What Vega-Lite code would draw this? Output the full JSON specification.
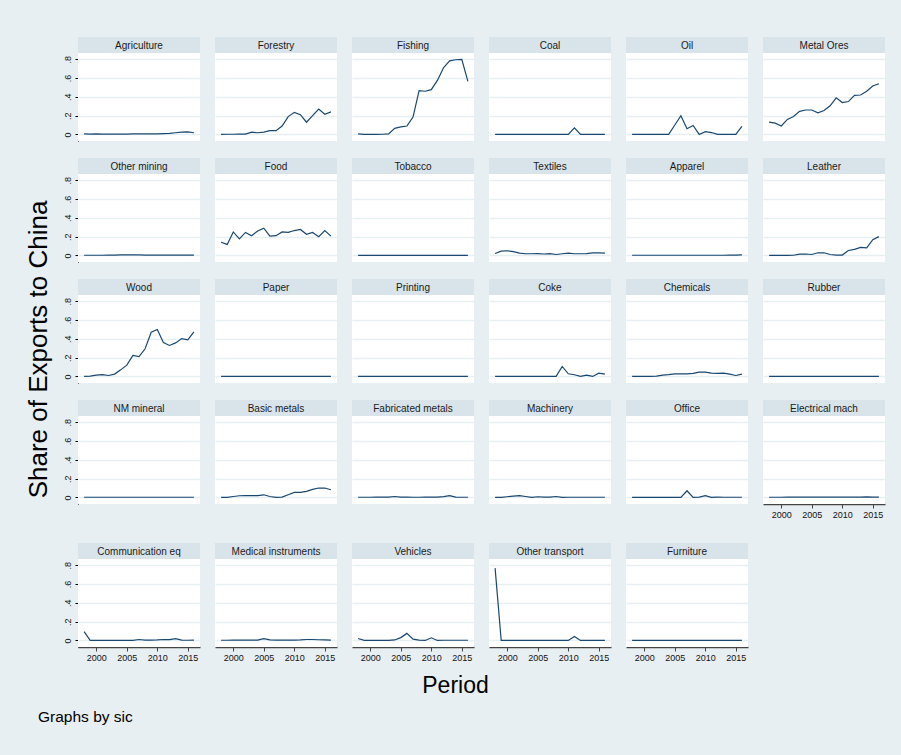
{
"$schema": "https://vega.github.io/schema/vega-lite/v6.json",
"background": "#e8eff2",
"padding": {"left": 25, "top": 37, "right": 16, "bottom": 29},
"config": {
  "font": "Liberation Sans",
  "view": {"fill": "white", "stroke": null},
  "title": {"font": "Liberation Sans", "fontWeight": "normal", "color": "#000000"},
  "header": {"labels": false, "title": null, "labelPadding": 0, "labelFontSize": 0, "labelExpr": "''", "titlePadding": 0},
  "axis": {"labelFont": "Liberation Sans", "labelColor": "#111111", "labelFontSize": 9, "titleFont": "Liberation Sans"}
},
"data": {"values": [
{"sic":"Agriculture","year":1998,"share":0.005},{"sic":"Agriculture","year":1999,"share":0.003},{"sic":"Agriculture","year":2000,"share":0.005},{"sic":"Agriculture","year":2001,"share":0.004},{"sic":"Agriculture","year":2002,"share":0.003},{"sic":"Agriculture","year":2003,"share":0.003},{"sic":"Agriculture","year":2004,"share":0.003},{"sic":"Agriculture","year":2005,"share":0.004},{"sic":"Agriculture","year":2006,"share":0.005},{"sic":"Agriculture","year":2007,"share":0.006},{"sic":"Agriculture","year":2008,"share":0.006},{"sic":"Agriculture","year":2009,"share":0.005},{"sic":"Agriculture","year":2010,"share":0.005},{"sic":"Agriculture","year":2011,"share":0.008},{"sic":"Agriculture","year":2012,"share":0.012},{"sic":"Agriculture","year":2013,"share":0.018},{"sic":"Agriculture","year":2014,"share":0.025},{"sic":"Agriculture","year":2015,"share":0.027},{"sic":"Agriculture","year":2016,"share":0.018},
{"sic":"Forestry","year":1998,"share":0},{"sic":"Forestry","year":1999,"share":0.002},{"sic":"Forestry","year":2000,"share":0.002},{"sic":"Forestry","year":2001,"share":0.004},{"sic":"Forestry","year":2002,"share":0.004},{"sic":"Forestry","year":2003,"share":0.025},{"sic":"Forestry","year":2004,"share":0.018},{"sic":"Forestry","year":2005,"share":0.025},{"sic":"Forestry","year":2006,"share":0.04},{"sic":"Forestry","year":2007,"share":0.04},{"sic":"Forestry","year":2008,"share":0.09},{"sic":"Forestry","year":2009,"share":0.19},{"sic":"Forestry","year":2010,"share":0.235},{"sic":"Forestry","year":2011,"share":0.21},{"sic":"Forestry","year":2012,"share":0.13},{"sic":"Forestry","year":2013,"share":0.2},{"sic":"Forestry","year":2014,"share":0.27},{"sic":"Forestry","year":2015,"share":0.215},{"sic":"Forestry","year":2016,"share":0.24},
{"sic":"Fishing","year":1998,"share":0.005},{"sic":"Fishing","year":1999,"share":0},{"sic":"Fishing","year":2000,"share":0},{"sic":"Fishing","year":2001,"share":0},{"sic":"Fishing","year":2002,"share":0.002},{"sic":"Fishing","year":2003,"share":0.005},{"sic":"Fishing","year":2004,"share":0.065},{"sic":"Fishing","year":2005,"share":0.08},{"sic":"Fishing","year":2006,"share":0.09},{"sic":"Fishing","year":2007,"share":0.185},{"sic":"Fishing","year":2008,"share":0.466},{"sic":"Fishing","year":2009,"share":0.46},{"sic":"Fishing","year":2010,"share":0.477},{"sic":"Fishing","year":2011,"share":0.575},{"sic":"Fishing","year":2012,"share":0.71},{"sic":"Fishing","year":2013,"share":0.783},{"sic":"Fishing","year":2014,"share":0.795},{"sic":"Fishing","year":2015,"share":0.8},{"sic":"Fishing","year":2016,"share":0.565},
{"sic":"Coal","year":1998,"share":0},{"sic":"Coal","year":1999,"share":0},{"sic":"Coal","year":2000,"share":0},{"sic":"Coal","year":2001,"share":0},{"sic":"Coal","year":2002,"share":0},{"sic":"Coal","year":2003,"share":0},{"sic":"Coal","year":2004,"share":0},{"sic":"Coal","year":2005,"share":0},{"sic":"Coal","year":2006,"share":0},{"sic":"Coal","year":2007,"share":0},{"sic":"Coal","year":2008,"share":0},{"sic":"Coal","year":2009,"share":0},{"sic":"Coal","year":2010,"share":0},{"sic":"Coal","year":2011,"share":0.07},{"sic":"Coal","year":2012,"share":0},{"sic":"Coal","year":2013,"share":0},{"sic":"Coal","year":2014,"share":0},{"sic":"Coal","year":2015,"share":0},{"sic":"Coal","year":2016,"share":0},
{"sic":"Oil","year":1998,"share":0},{"sic":"Oil","year":1999,"share":0},{"sic":"Oil","year":2000,"share":0},{"sic":"Oil","year":2001,"share":0},{"sic":"Oil","year":2002,"share":0},{"sic":"Oil","year":2003,"share":0},{"sic":"Oil","year":2004,"share":0},{"sic":"Oil","year":2005,"share":0.1},{"sic":"Oil","year":2006,"share":0.2},{"sic":"Oil","year":2007,"share":0.06},{"sic":"Oil","year":2008,"share":0.095},{"sic":"Oil","year":2009,"share":0},{"sic":"Oil","year":2010,"share":0.03},{"sic":"Oil","year":2011,"share":0.02},{"sic":"Oil","year":2012,"share":0},{"sic":"Oil","year":2013,"share":0},{"sic":"Oil","year":2014,"share":0},{"sic":"Oil","year":2015,"share":0},{"sic":"Oil","year":2016,"share":0.085},
{"sic":"Metal Ores","year":1998,"share":0.13},{"sic":"Metal Ores","year":1999,"share":0.12},{"sic":"Metal Ores","year":2000,"share":0.09},{"sic":"Metal Ores","year":2001,"share":0.16},{"sic":"Metal Ores","year":2002,"share":0.19},{"sic":"Metal Ores","year":2003,"share":0.245},{"sic":"Metal Ores","year":2004,"share":0.26},{"sic":"Metal Ores","year":2005,"share":0.26},{"sic":"Metal Ores","year":2006,"share":0.23},{"sic":"Metal Ores","year":2007,"share":0.255},{"sic":"Metal Ores","year":2008,"share":0.305},{"sic":"Metal Ores","year":2009,"share":0.39},{"sic":"Metal Ores","year":2010,"share":0.34},{"sic":"Metal Ores","year":2011,"share":0.35},{"sic":"Metal Ores","year":2012,"share":0.415},{"sic":"Metal Ores","year":2013,"share":0.42},{"sic":"Metal Ores","year":2014,"share":0.46},{"sic":"Metal Ores","year":2015,"share":0.515},{"sic":"Metal Ores","year":2016,"share":0.54},
{"sic":"Other mining","year":1998,"share":0.002},{"sic":"Other mining","year":1999,"share":0.002},{"sic":"Other mining","year":2000,"share":0.002},{"sic":"Other mining","year":2001,"share":0.002},{"sic":"Other mining","year":2002,"share":0.003},{"sic":"Other mining","year":2003,"share":0.003},{"sic":"Other mining","year":2004,"share":0.005},{"sic":"Other mining","year":2005,"share":0.006},{"sic":"Other mining","year":2006,"share":0.005},{"sic":"Other mining","year":2007,"share":0.005},{"sic":"Other mining","year":2008,"share":0.004},{"sic":"Other mining","year":2009,"share":0.004},{"sic":"Other mining","year":2010,"share":0.003},{"sic":"Other mining","year":2011,"share":0.003},{"sic":"Other mining","year":2012,"share":0.003},{"sic":"Other mining","year":2013,"share":0.003},{"sic":"Other mining","year":2014,"share":0.003},{"sic":"Other mining","year":2015,"share":0.004},{"sic":"Other mining","year":2016,"share":0.004},
{"sic":"Food","year":1998,"share":0.14},{"sic":"Food","year":1999,"share":0.117},{"sic":"Food","year":2000,"share":0.25},{"sic":"Food","year":2001,"share":0.177},{"sic":"Food","year":2002,"share":0.245},{"sic":"Food","year":2003,"share":0.21},{"sic":"Food","year":2004,"share":0.26},{"sic":"Food","year":2005,"share":0.29},{"sic":"Food","year":2006,"share":0.205},{"sic":"Food","year":2007,"share":0.21},{"sic":"Food","year":2008,"share":0.25},{"sic":"Food","year":2009,"share":0.245},{"sic":"Food","year":2010,"share":0.265},{"sic":"Food","year":2011,"share":0.277},{"sic":"Food","year":2012,"share":0.225},{"sic":"Food","year":2013,"share":0.245},{"sic":"Food","year":2014,"share":0.2},{"sic":"Food","year":2015,"share":0.265},{"sic":"Food","year":2016,"share":0.205},
{"sic":"Tobacco","year":1998,"share":0},{"sic":"Tobacco","year":1999,"share":0},{"sic":"Tobacco","year":2000,"share":0},{"sic":"Tobacco","year":2001,"share":0},{"sic":"Tobacco","year":2002,"share":0},{"sic":"Tobacco","year":2003,"share":0},{"sic":"Tobacco","year":2004,"share":0},{"sic":"Tobacco","year":2005,"share":0},{"sic":"Tobacco","year":2006,"share":0},{"sic":"Tobacco","year":2007,"share":0},{"sic":"Tobacco","year":2008,"share":0},{"sic":"Tobacco","year":2009,"share":0},{"sic":"Tobacco","year":2010,"share":0},{"sic":"Tobacco","year":2011,"share":0},{"sic":"Tobacco","year":2012,"share":0},{"sic":"Tobacco","year":2013,"share":0},{"sic":"Tobacco","year":2014,"share":0},{"sic":"Tobacco","year":2015,"share":0},{"sic":"Tobacco","year":2016,"share":0},
{"sic":"Textiles","year":1998,"share":0.02},{"sic":"Textiles","year":1999,"share":0.045},{"sic":"Textiles","year":2000,"share":0.05},{"sic":"Textiles","year":2001,"share":0.04},{"sic":"Textiles","year":2002,"share":0.025},{"sic":"Textiles","year":2003,"share":0.018},{"sic":"Textiles","year":2004,"share":0.018},{"sic":"Textiles","year":2005,"share":0.02},{"sic":"Textiles","year":2006,"share":0.015},{"sic":"Textiles","year":2007,"share":0.02},{"sic":"Textiles","year":2008,"share":0.01},{"sic":"Textiles","year":2009,"share":0.018},{"sic":"Textiles","year":2010,"share":0.025},{"sic":"Textiles","year":2011,"share":0.018},{"sic":"Textiles","year":2012,"share":0.018},{"sic":"Textiles","year":2013,"share":0.02},{"sic":"Textiles","year":2014,"share":0.028},{"sic":"Textiles","year":2015,"share":0.028},{"sic":"Textiles","year":2016,"share":0.025},
{"sic":"Apparel","year":1998,"share":0.002},{"sic":"Apparel","year":1999,"share":0.002},{"sic":"Apparel","year":2000,"share":0.002},{"sic":"Apparel","year":2001,"share":0.002},{"sic":"Apparel","year":2002,"share":0.002},{"sic":"Apparel","year":2003,"share":0.002},{"sic":"Apparel","year":2004,"share":0.002},{"sic":"Apparel","year":2005,"share":0.002},{"sic":"Apparel","year":2006,"share":0.002},{"sic":"Apparel","year":2007,"share":0.002},{"sic":"Apparel","year":2008,"share":0.002},{"sic":"Apparel","year":2009,"share":0.002},{"sic":"Apparel","year":2010,"share":0.002},{"sic":"Apparel","year":2011,"share":0.002},{"sic":"Apparel","year":2012,"share":0.002},{"sic":"Apparel","year":2013,"share":0.002},{"sic":"Apparel","year":2014,"share":0.003},{"sic":"Apparel","year":2015,"share":0.004},{"sic":"Apparel","year":2016,"share":0.005},
{"sic":"Leather","year":1998,"share":0},{"sic":"Leather","year":1999,"share":0},{"sic":"Leather","year":2000,"share":0},{"sic":"Leather","year":2001,"share":0},{"sic":"Leather","year":2002,"share":0.002},{"sic":"Leather","year":2003,"share":0.014},{"sic":"Leather","year":2004,"share":0.015},{"sic":"Leather","year":2005,"share":0.01},{"sic":"Leather","year":2006,"share":0.028},{"sic":"Leather","year":2007,"share":0.028},{"sic":"Leather","year":2008,"share":0.01},{"sic":"Leather","year":2009,"share":0.004},{"sic":"Leather","year":2010,"share":0.004},{"sic":"Leather","year":2011,"share":0.053},{"sic":"Leather","year":2012,"share":0.064},{"sic":"Leather","year":2013,"share":0.085},{"sic":"Leather","year":2014,"share":0.08},{"sic":"Leather","year":2015,"share":0.167},{"sic":"Leather","year":2016,"share":0.2},
{"sic":"Wood","year":1998,"share":0},{"sic":"Wood","year":1999,"share":0.004},{"sic":"Wood","year":2000,"share":0.014},{"sic":"Wood","year":2001,"share":0.02},{"sic":"Wood","year":2002,"share":0.01},{"sic":"Wood","year":2003,"share":0.025},{"sic":"Wood","year":2004,"share":0.07},{"sic":"Wood","year":2005,"share":0.12},{"sic":"Wood","year":2006,"share":0.223},{"sic":"Wood","year":2007,"share":0.212},{"sic":"Wood","year":2008,"share":0.294},{"sic":"Wood","year":2009,"share":0.47},{"sic":"Wood","year":2010,"share":0.5},{"sic":"Wood","year":2011,"share":0.36},{"sic":"Wood","year":2012,"share":0.33},{"sic":"Wood","year":2013,"share":0.357},{"sic":"Wood","year":2014,"share":0.403},{"sic":"Wood","year":2015,"share":0.39},{"sic":"Wood","year":2016,"share":0.474},
{"sic":"Paper","year":1998,"share":0},{"sic":"Paper","year":1999,"share":0},{"sic":"Paper","year":2000,"share":0},{"sic":"Paper","year":2001,"share":0},{"sic":"Paper","year":2002,"share":0},{"sic":"Paper","year":2003,"share":0},{"sic":"Paper","year":2004,"share":0},{"sic":"Paper","year":2005,"share":0},{"sic":"Paper","year":2006,"share":0},{"sic":"Paper","year":2007,"share":0},{"sic":"Paper","year":2008,"share":0},{"sic":"Paper","year":2009,"share":0},{"sic":"Paper","year":2010,"share":0},{"sic":"Paper","year":2011,"share":0},{"sic":"Paper","year":2012,"share":0},{"sic":"Paper","year":2013,"share":0},{"sic":"Paper","year":2014,"share":0},{"sic":"Paper","year":2015,"share":0},{"sic":"Paper","year":2016,"share":0},
{"sic":"Printing","year":1998,"share":0},{"sic":"Printing","year":1999,"share":0},{"sic":"Printing","year":2000,"share":0},{"sic":"Printing","year":2001,"share":0},{"sic":"Printing","year":2002,"share":0},{"sic":"Printing","year":2003,"share":0},{"sic":"Printing","year":2004,"share":0},{"sic":"Printing","year":2005,"share":0},{"sic":"Printing","year":2006,"share":0},{"sic":"Printing","year":2007,"share":0},{"sic":"Printing","year":2008,"share":0},{"sic":"Printing","year":2009,"share":0},{"sic":"Printing","year":2010,"share":0},{"sic":"Printing","year":2011,"share":0},{"sic":"Printing","year":2012,"share":0},{"sic":"Printing","year":2013,"share":0},{"sic":"Printing","year":2014,"share":0},{"sic":"Printing","year":2015,"share":0},{"sic":"Printing","year":2016,"share":0},
{"sic":"Coke","year":1998,"share":0},{"sic":"Coke","year":1999,"share":0},{"sic":"Coke","year":2000,"share":0},{"sic":"Coke","year":2001,"share":0},{"sic":"Coke","year":2002,"share":0},{"sic":"Coke","year":2003,"share":0},{"sic":"Coke","year":2004,"share":0},{"sic":"Coke","year":2005,"share":0},{"sic":"Coke","year":2006,"share":0},{"sic":"Coke","year":2007,"share":0},{"sic":"Coke","year":2008,"share":0},{"sic":"Coke","year":2009,"share":0.106},{"sic":"Coke","year":2010,"share":0.028},{"sic":"Coke","year":2011,"share":0.018},{"sic":"Coke","year":2012,"share":0},{"sic":"Coke","year":2013,"share":0.014},{"sic":"Coke","year":2014,"share":0},{"sic":"Coke","year":2015,"share":0.035},{"sic":"Coke","year":2016,"share":0.025},
{"sic":"Chemicals","year":1998,"share":0},{"sic":"Chemicals","year":1999,"share":0},{"sic":"Chemicals","year":2000,"share":0},{"sic":"Chemicals","year":2001,"share":0},{"sic":"Chemicals","year":2002,"share":0.003},{"sic":"Chemicals","year":2003,"share":0.014},{"sic":"Chemicals","year":2004,"share":0.02},{"sic":"Chemicals","year":2005,"share":0.028},{"sic":"Chemicals","year":2006,"share":0.028},{"sic":"Chemicals","year":2007,"share":0.028},{"sic":"Chemicals","year":2008,"share":0.032},{"sic":"Chemicals","year":2009,"share":0.046},{"sic":"Chemicals","year":2010,"share":0.046},{"sic":"Chemicals","year":2011,"share":0.035},{"sic":"Chemicals","year":2012,"share":0.032},{"sic":"Chemicals","year":2013,"share":0.035},{"sic":"Chemicals","year":2014,"share":0.025},{"sic":"Chemicals","year":2015,"share":0.01},{"sic":"Chemicals","year":2016,"share":0.025},
{"sic":"Rubber","year":1998,"share":0},{"sic":"Rubber","year":1999,"share":0},{"sic":"Rubber","year":2000,"share":0},{"sic":"Rubber","year":2001,"share":0},{"sic":"Rubber","year":2002,"share":0},{"sic":"Rubber","year":2003,"share":0},{"sic":"Rubber","year":2004,"share":0},{"sic":"Rubber","year":2005,"share":0},{"sic":"Rubber","year":2006,"share":0},{"sic":"Rubber","year":2007,"share":0},{"sic":"Rubber","year":2008,"share":0},{"sic":"Rubber","year":2009,"share":0},{"sic":"Rubber","year":2010,"share":0},{"sic":"Rubber","year":2011,"share":0},{"sic":"Rubber","year":2012,"share":0},{"sic":"Rubber","year":2013,"share":0},{"sic":"Rubber","year":2014,"share":0},{"sic":"Rubber","year":2015,"share":0},{"sic":"Rubber","year":2016,"share":0},
{"sic":"NM mineral","year":1998,"share":0.002},{"sic":"NM mineral","year":1999,"share":0.002},{"sic":"NM mineral","year":2000,"share":0.002},{"sic":"NM mineral","year":2001,"share":0.002},{"sic":"NM mineral","year":2002,"share":0.002},{"sic":"NM mineral","year":2003,"share":0.002},{"sic":"NM mineral","year":2004,"share":0.002},{"sic":"NM mineral","year":2005,"share":0.002},{"sic":"NM mineral","year":2006,"share":0.002},{"sic":"NM mineral","year":2007,"share":0.002},{"sic":"NM mineral","year":2008,"share":0.002},{"sic":"NM mineral","year":2009,"share":0.002},{"sic":"NM mineral","year":2010,"share":0.002},{"sic":"NM mineral","year":2011,"share":0.002},{"sic":"NM mineral","year":2012,"share":0.002},{"sic":"NM mineral","year":2013,"share":0.002},{"sic":"NM mineral","year":2014,"share":0.002},{"sic":"NM mineral","year":2015,"share":0.002},{"sic":"NM mineral","year":2016,"share":0.002},
{"sic":"Basic metals","year":1998,"share":0},{"sic":"Basic metals","year":1999,"share":0},{"sic":"Basic metals","year":2000,"share":0.01},{"sic":"Basic metals","year":2001,"share":0.018},{"sic":"Basic metals","year":2002,"share":0.02},{"sic":"Basic metals","year":2003,"share":0.02},{"sic":"Basic metals","year":2004,"share":0.02},{"sic":"Basic metals","year":2005,"share":0.028},{"sic":"Basic metals","year":2006,"share":0.01},{"sic":"Basic metals","year":2007,"share":0},{"sic":"Basic metals","year":2008,"share":0.004},{"sic":"Basic metals","year":2009,"share":0.028},{"sic":"Basic metals","year":2010,"share":0.053},{"sic":"Basic metals","year":2011,"share":0.053},{"sic":"Basic metals","year":2012,"share":0.064},{"sic":"Basic metals","year":2013,"share":0.085},{"sic":"Basic metals","year":2014,"share":0.1},{"sic":"Basic metals","year":2015,"share":0.1},{"sic":"Basic metals","year":2016,"share":0.082},
{"sic":"Fabricated metals","year":1998,"share":0.002},{"sic":"Fabricated metals","year":1999,"share":0.002},{"sic":"Fabricated metals","year":2000,"share":0.002},{"sic":"Fabricated metals","year":2001,"share":0.003},{"sic":"Fabricated metals","year":2002,"share":0.003},{"sic":"Fabricated metals","year":2003,"share":0.003},{"sic":"Fabricated metals","year":2004,"share":0.01},{"sic":"Fabricated metals","year":2005,"share":0.003},{"sic":"Fabricated metals","year":2006,"share":0.003},{"sic":"Fabricated metals","year":2007,"share":0.002},{"sic":"Fabricated metals","year":2008,"share":0.002},{"sic":"Fabricated metals","year":2009,"share":0.003},{"sic":"Fabricated metals","year":2010,"share":0.003},{"sic":"Fabricated metals","year":2011,"share":0.004},{"sic":"Fabricated metals","year":2012,"share":0.008},{"sic":"Fabricated metals","year":2013,"share":0.02},{"sic":"Fabricated metals","year":2014,"share":0.004},{"sic":"Fabricated metals","year":2015,"share":0.002},{"sic":"Fabricated metals","year":2016,"share":0.002},
{"sic":"Machinery","year":1998,"share":0},{"sic":"Machinery","year":1999,"share":0},{"sic":"Machinery","year":2000,"share":0.007},{"sic":"Machinery","year":2001,"share":0.014},{"sic":"Machinery","year":2002,"share":0.02},{"sic":"Machinery","year":2003,"share":0.01},{"sic":"Machinery","year":2004,"share":0},{"sic":"Machinery","year":2005,"share":0.007},{"sic":"Machinery","year":2006,"share":0.004},{"sic":"Machinery","year":2007,"share":0.004},{"sic":"Machinery","year":2008,"share":0.01},{"sic":"Machinery","year":2009,"share":0},{"sic":"Machinery","year":2010,"share":0.002},{"sic":"Machinery","year":2011,"share":0.002},{"sic":"Machinery","year":2012,"share":0.002},{"sic":"Machinery","year":2013,"share":0.002},{"sic":"Machinery","year":2014,"share":0.002},{"sic":"Machinery","year":2015,"share":0.002},{"sic":"Machinery","year":2016,"share":0.002},
{"sic":"Office","year":1998,"share":0},{"sic":"Office","year":1999,"share":0},{"sic":"Office","year":2000,"share":0},{"sic":"Office","year":2001,"share":0},{"sic":"Office","year":2002,"share":0},{"sic":"Office","year":2003,"share":0},{"sic":"Office","year":2004,"share":0},{"sic":"Office","year":2005,"share":0},{"sic":"Office","year":2006,"share":0},{"sic":"Office","year":2007,"share":0.071},{"sic":"Office","year":2008,"share":0},{"sic":"Office","year":2009,"share":0.004},{"sic":"Office","year":2010,"share":0.018},{"sic":"Office","year":2011,"share":0},{"sic":"Office","year":2012,"share":0.004},{"sic":"Office","year":2013,"share":0.002},{"sic":"Office","year":2014,"share":0.002},{"sic":"Office","year":2015,"share":0.002},{"sic":"Office","year":2016,"share":0.002},
{"sic":"Electrical mach","year":1998,"share":0.002},{"sic":"Electrical mach","year":1999,"share":0.002},{"sic":"Electrical mach","year":2000,"share":0.002},{"sic":"Electrical mach","year":2001,"share":0.003},{"sic":"Electrical mach","year":2002,"share":0.003},{"sic":"Electrical mach","year":2003,"share":0.003},{"sic":"Electrical mach","year":2004,"share":0.003},{"sic":"Electrical mach","year":2005,"share":0.003},{"sic":"Electrical mach","year":2006,"share":0.003},{"sic":"Electrical mach","year":2007,"share":0.003},{"sic":"Electrical mach","year":2008,"share":0.003},{"sic":"Electrical mach","year":2009,"share":0.003},{"sic":"Electrical mach","year":2010,"share":0.003},{"sic":"Electrical mach","year":2011,"share":0.003},{"sic":"Electrical mach","year":2012,"share":0.003},{"sic":"Electrical mach","year":2013,"share":0.004},{"sic":"Electrical mach","year":2014,"share":0.006},{"sic":"Electrical mach","year":2015,"share":0.004},{"sic":"Electrical mach","year":2016,"share":0.003},
{"sic":"Communication eq","year":1998,"share":0.093},{"sic":"Communication eq","year":1999,"share":0},{"sic":"Communication eq","year":2000,"share":0},{"sic":"Communication eq","year":2001,"share":0},{"sic":"Communication eq","year":2002,"share":0},{"sic":"Communication eq","year":2003,"share":0},{"sic":"Communication eq","year":2004,"share":0},{"sic":"Communication eq","year":2005,"share":0},{"sic":"Communication eq","year":2006,"share":0},{"sic":"Communication eq","year":2007,"share":0.01},{"sic":"Communication eq","year":2008,"share":0.003},{"sic":"Communication eq","year":2009,"share":0.003},{"sic":"Communication eq","year":2010,"share":0.005},{"sic":"Communication eq","year":2011,"share":0.01},{"sic":"Communication eq","year":2012,"share":0.008},{"sic":"Communication eq","year":2013,"share":0.02},{"sic":"Communication eq","year":2014,"share":0.003},{"sic":"Communication eq","year":2015,"share":0.002},{"sic":"Communication eq","year":2016,"share":0.003},
{"sic":"Medical instruments","year":1998,"share":0.002},{"sic":"Medical instruments","year":1999,"share":0.002},{"sic":"Medical instruments","year":2000,"share":0.003},{"sic":"Medical instruments","year":2001,"share":0.003},{"sic":"Medical instruments","year":2002,"share":0.003},{"sic":"Medical instruments","year":2003,"share":0.003},{"sic":"Medical instruments","year":2004,"share":0.003},{"sic":"Medical instruments","year":2005,"share":0.02},{"sic":"Medical instruments","year":2006,"share":0.005},{"sic":"Medical instruments","year":2007,"share":0.003},{"sic":"Medical instruments","year":2008,"share":0.003},{"sic":"Medical instruments","year":2009,"share":0.004},{"sic":"Medical instruments","year":2010,"share":0.004},{"sic":"Medical instruments","year":2011,"share":0.006},{"sic":"Medical instruments","year":2012,"share":0.01},{"sic":"Medical instruments","year":2013,"share":0.01},{"sic":"Medical instruments","year":2014,"share":0.007},{"sic":"Medical instruments","year":2015,"share":0.005},{"sic":"Medical instruments","year":2016,"share":0.003},
{"sic":"Vehicles","year":1998,"share":0.02},{"sic":"Vehicles","year":1999,"share":0},{"sic":"Vehicles","year":2000,"share":0},{"sic":"Vehicles","year":2001,"share":0},{"sic":"Vehicles","year":2002,"share":0},{"sic":"Vehicles","year":2003,"share":0},{"sic":"Vehicles","year":2004,"share":0.005},{"sic":"Vehicles","year":2005,"share":0.03},{"sic":"Vehicles","year":2006,"share":0.075},{"sic":"Vehicles","year":2007,"share":0.014},{"sic":"Vehicles","year":2008,"share":0.004},{"sic":"Vehicles","year":2009,"share":0},{"sic":"Vehicles","year":2010,"share":0.028},{"sic":"Vehicles","year":2011,"share":0},{"sic":"Vehicles","year":2012,"share":0.002},{"sic":"Vehicles","year":2013,"share":0.002},{"sic":"Vehicles","year":2014,"share":0.002},{"sic":"Vehicles","year":2015,"share":0.002},{"sic":"Vehicles","year":2016,"share":0.002},
{"sic":"Other transport","year":1998,"share":0.77},{"sic":"Other transport","year":1999,"share":0},{"sic":"Other transport","year":2000,"share":0},{"sic":"Other transport","year":2001,"share":0},{"sic":"Other transport","year":2002,"share":0},{"sic":"Other transport","year":2003,"share":0},{"sic":"Other transport","year":2004,"share":0},{"sic":"Other transport","year":2005,"share":0},{"sic":"Other transport","year":2006,"share":0},{"sic":"Other transport","year":2007,"share":0},{"sic":"Other transport","year":2008,"share":0},{"sic":"Other transport","year":2009,"share":0},{"sic":"Other transport","year":2010,"share":0},{"sic":"Other transport","year":2011,"share":0.043},{"sic":"Other transport","year":2012,"share":0},{"sic":"Other transport","year":2013,"share":0},{"sic":"Other transport","year":2014,"share":0},{"sic":"Other transport","year":2015,"share":0},{"sic":"Other transport","year":2016,"share":0},
{"sic":"Furniture","year":1998,"share":0},{"sic":"Furniture","year":1999,"share":0},{"sic":"Furniture","year":2000,"share":0},{"sic":"Furniture","year":2001,"share":0},{"sic":"Furniture","year":2002,"share":0},{"sic":"Furniture","year":2003,"share":0},{"sic":"Furniture","year":2004,"share":0},{"sic":"Furniture","year":2005,"share":0},{"sic":"Furniture","year":2006,"share":0},{"sic":"Furniture","year":2007,"share":0},{"sic":"Furniture","year":2008,"share":0},{"sic":"Furniture","year":2009,"share":0},{"sic":"Furniture","year":2010,"share":0},{"sic":"Furniture","year":2011,"share":0},{"sic":"Furniture","year":2012,"share":0},{"sic":"Furniture","year":2013,"share":0},{"sic":"Furniture","year":2014,"share":0},{"sic":"Furniture","year":2015,"share":0},{"sic":"Furniture","year":2016,"share":0}
]},
"title": {"text": "Graphs by sic", "orient": "bottom", "anchor": "start", "fontSize": 15.5, "offset": 12, "dx": 12},
"vconcat": [{
  "title": {"text": "Period", "orient": "bottom", "anchor": "middle", "fontSize": 23, "offset": 13},
  "vconcat": [{
    "title": {"text": "Share of Exports to China", "orient": "left", "anchor": "middle", "fontSize": 26, "offset": 11},
    "spacing": 24,
    "vconcat": [
      {"spacing": 15, "hconcat": [
        {
          "transform": [{"filter": {"field": "sic", "oneOf": ["Agriculture","Forestry","Fishing","Coal","Oil","Other mining","Food","Tobacco","Textiles","Apparel","Wood","Paper","Printing","Coke","Chemicals","NM mineral","Basic metals","Fabricated metals","Machinery","Office"]}}],
          "facet": {"field": "sic", "type": "nominal", "header": {"labels": false, "title": null, "labelPadding": 0, "labelFontSize": 0, "labelExpr": "''", "titlePadding": 0},
            "sort": ["Agriculture","Forestry","Fishing","Coal","Oil","Other mining","Food","Tobacco","Textiles","Apparel","Wood","Paper","Printing","Coke","Chemicals","NM mineral","Basic metals","Fabricated metals","Machinery","Office"]},
          "columns": 5,
          "spacing": {"row": 17, "column": 15},
          "spec": {
            "width": 122, "height": 104,
            "layer": [
              {"transform": [{"aggregate": [{"op": "count", "as": "n"}], "groupby": ["sic"]}],
               "mark": {"type": "rect", "fill": "#d8e4ea"},
               "encoding": {"x": {"value": 0}, "x2": {"value": "width"}, "y": {"value": 0}, "y2": {"value": 16}}},
              {"transform": [{"aggregate": [{"op": "count", "as": "n"}], "groupby": ["sic"]}],
               "mark": {"type": "text", "fontSize": 10, "color": "#1a1a1a", "baseline": "middle", "align": "center"},
               "encoding": {"text": {"field": "sic", "type": "nominal"}, "x": {"value": 61}, "y": {"value": 8.5}}},
              {"mark": {"type": "line", "color": "#1a476f", "strokeWidth": 1.2},
               "encoding": {
                 "x": {"field": "year", "type": "quantitative", "scale": {"domain": [1997, 2017], "nice": false, "zero": false}, "axis": null},
                 "y": {"field": "share", "type": "quantitative", "scale": {"domain": [-0.07, 0.867], "range": [104, 16], "nice": false, "zero": false},
                       "axis": {"title": null, "values": [0, 0.2, 0.4, 0.6, 0.8], "labelExpr": "datum.value == 0 ? '0' : replace(format(datum.value, '.1f'), '0.', '.')", "labelAngle": -90, "labelAlign": "center", "labelBaseline": "bottom", "labelPadding": 3, "domainColor": "#000000", "tickColor": "#000000", "tickSize": 3, "gridColor": "#e6eff2", "gridWidth": 1.5, "labelFontSize": 9}}
               }}
            ]
          }
        },
        {
          "transform": [{"filter": {"field": "sic", "oneOf": ["Metal Ores","Leather","Rubber","Electrical mach"]}}],
          "facet": {"field": "sic", "type": "nominal", "header": {"labels": false, "title": null, "labelPadding": 0, "labelFontSize": 0, "labelExpr": "''", "titlePadding": 0},
            "sort": ["Metal Ores","Leather","Rubber","Electrical mach"]},
          "columns": 1,
          "spacing": {"row": 17, "column": 15},
          "spec": {
            "width": 122, "height": 104,
            "layer": [
              {"transform": [{"aggregate": [{"op": "count", "as": "n"}], "groupby": ["sic"]}],
               "mark": {"type": "rect", "fill": "#d8e4ea"},
               "encoding": {"x": {"value": 0}, "x2": {"value": "width"}, "y": {"value": 0}, "y2": {"value": 16}}},
              {"transform": [{"aggregate": [{"op": "count", "as": "n"}], "groupby": ["sic"]}],
               "mark": {"type": "text", "fontSize": 10, "color": "#1a1a1a", "baseline": "middle", "align": "center"},
               "encoding": {"text": {"field": "sic", "type": "nominal"}, "x": {"value": 61}, "y": {"value": 8.5}}},
              {"mark": {"type": "line", "color": "#1a476f", "strokeWidth": 1.2},
               "encoding": {
                 "x": {"field": "year", "type": "quantitative", "scale": {"domain": [1997, 2017], "nice": false, "zero": false},
                       "axis": {"title": null, "values": [2000, 2005, 2010, 2015], "format": "d", "grid": false, "domainColor": "#444444", "domainWidth": 1.5, "tickColor": "#444444", "tickSize": 4, "labelPadding": 2, "labelFontSize": 9}},
                 "y": {"field": "share", "type": "quantitative", "scale": {"domain": [-0.07, 0.867], "range": [104, 16], "nice": false, "zero": false},
                       "axis": {"title": null, "values": [0, 0.2, 0.4, 0.6, 0.8], "labels": false, "ticks": false, "domain": false, "gridColor": "#e6eff2", "gridWidth": 1.5}}
               }}
            ]
          }
        }
      ]},
      {
        "transform": [{"filter": {"field": "sic", "oneOf": ["Communication eq","Medical instruments","Vehicles","Other transport","Furniture"]}}],
        "facet": {"field": "sic", "type": "nominal", "header": {"labels": false, "title": null, "labelPadding": 0, "labelFontSize": 0, "labelExpr": "''", "titlePadding": 0},
          "sort": ["Communication eq","Medical instruments","Vehicles","Other transport","Furniture"]},
        "columns": 6,
        "spacing": {"row": 17, "column": 15},
        "spec": {
          "width": 122, "height": 104,
          "layer": [
            {"transform": [{"aggregate": [{"op": "count", "as": "n"}], "groupby": ["sic"]}],
             "mark": {"type": "rect", "fill": "#d8e4ea"},
             "encoding": {"x": {"value": 0}, "x2": {"value": "width"}, "y": {"value": 0}, "y2": {"value": 16}}},
            {"transform": [{"aggregate": [{"op": "count", "as": "n"}], "groupby": ["sic"]}],
             "mark": {"type": "text", "fontSize": 10, "color": "#1a1a1a", "baseline": "middle", "align": "center"},
             "encoding": {"text": {"field": "sic", "type": "nominal"}, "x": {"value": 61}, "y": {"value": 8.5}}},
            {"mark": {"type": "line", "color": "#1a476f", "strokeWidth": 1.2},
             "encoding": {
               "x": {"field": "year", "type": "quantitative", "scale": {"domain": [1997, 2017], "nice": false, "zero": false},
                     "axis": {"title": null, "values": [2000, 2005, 2010, 2015], "format": "d", "grid": false, "domainColor": "#444444", "domainWidth": 1.5, "tickColor": "#444444", "tickSize": 4, "labelPadding": 2, "labelFontSize": 9}},
               "y": {"field": "share", "type": "quantitative", "scale": {"domain": [-0.07, 0.867], "range": [104, 16], "nice": false, "zero": false},
                     "axis": {"title": null, "values": [0, 0.2, 0.4, 0.6, 0.8], "labelExpr": "datum.value == 0 ? '0' : replace(format(datum.value, '.1f'), '0.', '.')", "labelAngle": -90, "labelAlign": "center", "labelBaseline": "bottom", "labelPadding": 3, "domainColor": "#000000", "tickColor": "#000000", "tickSize": 3, "gridColor": "#e6eff2", "gridWidth": 1.5, "labelFontSize": 9}}
             }}
          ]
        }
      }
    ]
  }]
}]
}
